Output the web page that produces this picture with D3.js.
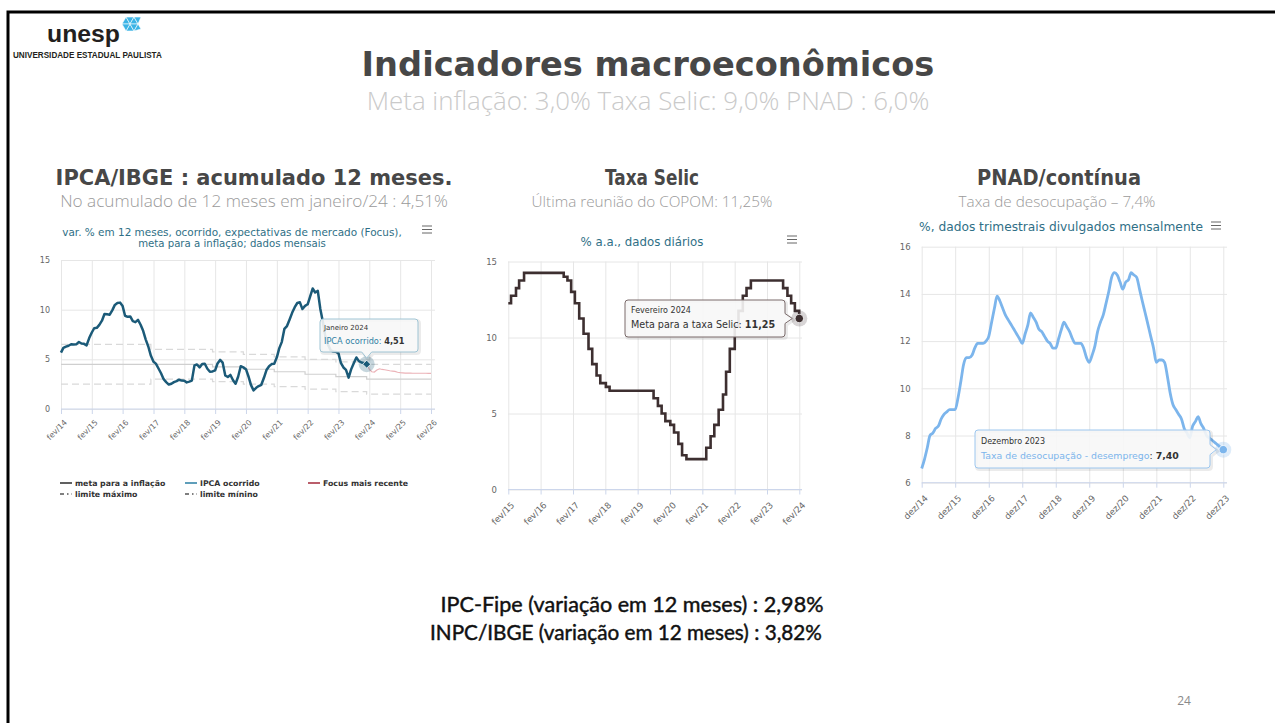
<!DOCTYPE html>
<html>
<head>
<meta charset="utf-8">
<script src="https://cdn.jsdelivr.net/npm/d3@7"></script>
<style>
  body { margin: 0; background: #fff; }
  svg { display: block; }
</style>
</head>
<body>
<svg id="slide" width="1275" height="723"></svg>
<script>
// ---------------- data ----------------
// IPCA 12-month, monthly from fev/2014 to jan/2024
const ipcaStart = "2014-02";
const ipcaValues = [
  5.68, 6.15, 6.28, 6.37, 6.52, 6.50, 6.51, 6.75, 6.59, 6.56, 6.41,
  7.14, 7.70, 8.13, 8.17, 8.47, 8.89, 9.56, 9.53, 9.49, 9.93, 10.48, 10.67,
  10.71, 10.36, 9.39, 9.28, 9.32, 8.84, 8.74, 8.97, 8.48, 7.87, 6.99, 6.29,
  5.35, 4.76, 4.57, 4.08, 3.60, 3.00, 2.71, 2.46, 2.54, 2.70, 2.80, 2.95,
  2.86, 2.84, 2.68, 2.76, 2.86, 4.39, 4.48, 4.19, 4.53, 4.56, 4.05, 3.75,
  3.78, 3.89, 4.58, 4.94, 4.66, 3.37, 3.22, 3.43, 2.89, 2.54, 3.27, 4.31,
  4.19, 4.01, 3.30, 2.40, 1.88, 2.13, 2.31, 2.44, 3.14, 3.92, 4.31, 4.52,
  4.56, 5.20, 6.10, 6.76, 8.06, 8.35, 8.99, 9.68, 10.25, 10.67, 10.74, 10.06,
  10.38, 10.54, 11.30, 12.13, 11.73, 11.89, 10.07, 8.73, 7.17, 6.47, 5.90, 5.79,
  5.77, 5.60, 4.65, 4.18, 3.94, 3.16, 3.99, 4.61, 5.19, 4.82, 4.68, 4.62,
  4.51
];
// Focus expectations, monthly from jan/2024
const focusStart = "2024-01";
const focusValues = [
  4.51, 4.00, 3.75, 3.72, 3.92, 4.05, 3.98, 3.95, 3.90, 3.85, 3.82, 3.78,
  3.70, 3.66, 3.64, 3.62, 3.62, 3.61, 3.60, 3.60, 3.60, 3.60, 3.60, 3.60,
  3.58, 3.58
];
// inflation target and band, by year
const metaYears = [2014, 2015, 2016, 2017, 2018, 2019, 2020, 2021, 2022, 2023, 2024, 2025, 2026];
const metaValues = [4.5, 4.5, 4.5, 4.5, 4.5, 4.25, 4.0, 3.75, 3.5, 3.25, 3.0, 3.0, 3.0];
const limMaxValues = [6.5, 6.5, 6.5, 6.0, 6.0, 5.75, 5.5, 5.25, 5.0, 4.75, 4.5, 4.5, 4.5];
const limMinValues = [2.5, 2.5, 2.5, 3.0, 3.0, 2.75, 2.5, 2.25, 2.0, 1.75, 1.5, 1.5, 1.5];
const ipcaTicks = ["fev/14", "fev/15", "fev/16", "fev/17", "fev/18", "fev/19", "fev/20",
  "fev/21", "fev/22", "fev/23", "fev/24", "fev/25", "fev/26"];

// Selic target, date of each COPOM change
const selicDates = [
  "2015-02-01", "2015-03-04", "2015-04-29", "2015-06-03", "2015-07-29",
  "2016-10-19", "2016-11-30", "2017-01-11", "2017-02-22", "2017-04-12",
  "2017-05-31", "2017-07-26", "2017-09-06", "2017-10-25", "2017-12-06",
  "2018-02-07", "2018-03-21", "2019-07-31", "2019-09-18", "2019-10-30",
  "2019-12-11", "2020-02-05", "2020-03-18", "2020-05-06", "2020-06-17",
  "2020-08-05", "2021-03-17", "2021-05-05", "2021-06-16", "2021-08-04",
  "2021-09-22", "2021-10-27", "2021-12-08", "2022-02-02", "2022-03-16",
  "2022-05-04", "2022-06-15", "2022-08-03", "2023-08-02", "2023-09-20",
  "2023-11-01", "2023-12-13", "2024-01-31", "2024-02-01"
];
const selicValues = [
  12.25, 12.75, 13.25, 13.75, 14.25,
  14.00, 13.75, 13.00, 12.25, 11.25,
  10.25, 9.25, 8.25, 7.50, 7.00,
  6.75, 6.50, 6.00, 5.50, 5.00,
  4.50, 4.25, 3.75, 3.00, 2.25,
  2.00, 2.75, 3.50, 4.25, 5.25,
  6.25, 7.75, 9.25, 10.75, 11.75,
  12.75, 13.25, 13.75, 13.25, 12.75,
  12.25, 11.75, 11.25, 11.25
];
const selicTicks = ["fev/15", "fev/16", "fev/17", "fev/18", "fev/19", "fev/20",
  "fev/21", "fev/22", "fev/23", "fev/24"];

// PNAD unemployment rate, monthly from dez/2014 to dez/2023
const pnadStart = "2014-12";
const pnadValues = [
  6.6,
  7.0, 7.5, 8.0, 8.1, 8.3, 8.4, 8.7, 8.9, 9.0, 9.1, 9.1, 9.1,
  9.6, 10.3, 11.0, 11.3, 11.3, 11.4, 11.7, 11.9, 11.9, 11.9, 12.0, 12.2,
  12.8, 13.4, 13.9, 13.7, 13.4, 13.1, 12.9, 12.7, 12.5, 12.3, 12.1, 11.9,
  12.3, 12.7, 13.2, 13.0, 12.8, 12.5, 12.4, 12.2, 12.0, 11.9, 11.7, 11.7,
  12.1, 12.5, 12.8, 12.6, 12.4, 12.1, 11.9, 11.9, 11.9, 11.7, 11.3, 11.1,
  11.4, 11.8, 12.4, 12.8, 13.1, 13.6, 14.1, 14.7, 14.9, 14.8, 14.5, 14.2,
  14.5, 14.6, 14.9, 14.8, 14.7, 14.2, 13.7, 13.2, 12.7, 12.2, 11.7, 11.1,
  11.2, 11.2, 11.1, 10.5, 9.8, 9.3, 9.1, 8.9, 8.7, 8.3, 8.1, 7.9,
  8.4, 8.6, 8.8, 8.5, 8.3, 8.0, 7.9, 7.8, 7.7, 7.6, 7.5, 7.4
];
const pnadTicks = ["dez/14", "dez/15", "dez/16", "dez/17", "dez/18", "dez/19",
  "dez/20", "dez/21", "dez/22", "dez/23"];

// ---------------- helpers ----------------
const parseMonth = d3.timeParse("%Y-%m");
const parseDay = d3.timeParse("%Y-%m-%d");
const monthNum = { jan: 0, fev: 1, mar: 2, abr: 3, mai: 4, jun: 5, jul: 6, ago: 7, set: 8, out: 9, nov: 10, dez: 11 };
const tickDate = (s) => new Date(2000 + +s.split("/")[1], monthNum[s.split("/")[0]], 1);
const monthly = (start, vals) => vals.map((v, i) => ({ d: d3.timeMonth.offset(parseMonth(start), i), v: v }));

const svg = d3.select("#slide");
svg.append("rect").attr("width", 1275).attr("height", 723).attr("fill", "#fff");

function fitText(sel, width) {
  const w = sel.node().getComputedTextLength();
  const fs = parseFloat(sel.attr("font-size"));
  sel.attr("font-size", fs * width / w);
  return sel;
}

function text(g, x, y, str, o) {
  const t = g.append("text").attr("x", x).attr("y", y).text(str)
    .attr("font-family", o.font || "DejaVu Sans")
    .attr("font-size", o.size || 10)
    .attr("font-weight", o.weight || "normal")
    .attr("fill", o.fill || "#333")
    .attr("text-anchor", o.anchor || "start");
  if (o.width) fitText(t, o.width);
  if (o.squeeze) t.attr("textLength", o.squeeze).attr("lengthAdjust", "spacingAndGlyphs");
  return t;
}

// grid, axes and labels in a Highcharts-like style
function chartFrame(g, x, y, xTicks, yTicks, box, labelOff) {
  const ticks = xTicks.map(tickDate);
  g.append("g")
    .attr("transform", `translate(${box.x0},0)`)
    .call(d3.axisLeft(y).tickValues(yTicks).tickSize(-(box.x1 - box.x0)).tickFormat(""))
    .call((a) => a.select(".domain").remove())
    .selectAll("line").attr("stroke", "#e6e6e6");
  g.append("g")
    .attr("transform", `translate(0,${box.y1})`)
    .call(d3.axisBottom(x).tickValues(ticks).tickSize(box.y0 - box.y1).tickFormat(""))
    .call((a) => a.select(".domain").remove())
    .selectAll("line").attr("stroke", "#e6e6e6");
  g.append("line")
    .attr("x1", box.x0).attr("x2", box.x1).attr("y1", box.y0).attr("y2", box.y0)
    .attr("stroke", "#ccd6eb");
  const xa = g.append("g")
    .attr("transform", `translate(0,${box.y0})`)
    .call(d3.axisBottom(x).tickValues(ticks).tickSize(5).tickFormat((d, i) => xTicks[i]));
  xa.select(".domain").remove();
  xa.selectAll("line").attr("stroke", "#ccd6eb");
  xa.selectAll("text")
    .attr("x", 0).attr("y", 0).attr("dy", "0.35em")
    .attr("transform", `translate(${labelOff[0]},${labelOff[1]}) rotate(-45)`)
    .attr("text-anchor", "end")
    .attr("font-family", "DejaVu Sans").attr("font-size", box.xfs).attr("fill", "#666");
  const ya = g.append("g")
    .attr("transform", `translate(${box.x0 - 8},0)`)
    .call(d3.axisLeft(y).tickValues(yTicks).tickSize(0));
  ya.select(".domain").remove();
  ya.selectAll("text").attr("font-family", "DejaVu Sans").attr("font-size", box.yfs).attr("fill", "#666");
}

function burger(g, x, y) {
  [0, 3.5, 7].forEach((dy) => g.append("line")
    .attr("x1", x - 5).attr("x2", x + 5).attr("y1", y + dy).attr("y2", y + dy)
    .attr("stroke", "#666").attr("stroke-width", 1));
}

// tooltip box with callout pointer; side = "bottom" or "right"
function tipBox(g, b, stroke, side, px, py) {
  let p;
  if (side === "bottom") {
    p = `M${b.x + 3},${b.y} H${b.x + b.w - 3} Q${b.x + b.w},${b.y} ${b.x + b.w},${b.y + 3} V${b.y + b.h - 3}
      Q${b.x + b.w},${b.y + b.h} ${b.x + b.w - 3},${b.y + b.h} H${px + 5} L${px},${py} L${px - 5},${b.y + b.h}
      H${b.x + 3} Q${b.x},${b.y + b.h} ${b.x},${b.y + b.h - 3} V${b.y + 3} Q${b.x},${b.y} ${b.x + 3},${b.y} Z`;
  } else {
    p = `M${b.x + 3},${b.y} H${b.x + b.w - 3} Q${b.x + b.w},${b.y} ${b.x + b.w},${b.y + 3} V${py - 5}
      L${px},${py} L${b.x + b.w},${py + 5} V${b.y + b.h - 3}
      Q${b.x + b.w},${b.y + b.h} ${b.x + b.w - 3},${b.y + b.h} H${b.x + 3} Q${b.x},${b.y + b.h} ${b.x},${b.y + b.h - 3}
      V${b.y + 3} Q${b.x},${b.y} ${b.x + 3},${b.y} Z`;
  }
  g.append("path").attr("d", p).attr("transform", "translate(1.5,1.5)")
    .attr("fill", "none").attr("stroke", "#000").attr("stroke-opacity", 0.08).attr("stroke-width", 3);
  g.append("path").attr("d", p).attr("fill", "#f7f7f7").attr("fill-opacity", 0.9)
    .attr("stroke", stroke).attr("stroke-width", 1);
}

// ---------------- slide frame & logo ----------------
svg.append("path").attr("d", "M8,723 V12 H1275").attr("fill", "none")
  .attr("stroke", "#000").attr("stroke-width", 3);
text(svg, 47, 42, "unesp", { font: "Liberation Sans", size: 24, weight: "bold", fill: "#231f20", width: 73 });
const logo = svg.append("g").attr("fill", "#3cb4e5").attr("stroke", "#fff").attr("stroke-width", 0.6);
[[122, 24, 126, 17, 130, 24], [126, 17, 134, 17, 130, 24], [130, 24, 134, 17, 138, 24],
 [134, 17, 141, 17, 138, 24], [126, 31, 130, 24, 134, 31], [130, 24, 138, 24, 134, 31],
 [134, 31, 138, 24, 141, 29], [122, 24, 130, 24, 126, 31]].forEach((t) =>
  logo.append("polygon").attr("points", `${t[0]},${t[1]} ${t[2]},${t[3]} ${t[4]},${t[5]}`));
text(svg, 13, 58, "UNIVERSIDADE ESTADUAL PAULISTA", { font: "Liberation Sans", size: 7, weight: "bold", fill: "#231f20", width: 149 });

// ---------------- headings ----------------
text(svg, 648, 76, "Indicadores macroeconômicos", { size: 32, weight: "bold", fill: "#474747", anchor: "middle", width: 573 });
text(svg, 648, 110, "Meta inflação: 3,0% Taxa Selic: 9,0% PNAD : 6,0%", { font: "Open Sans", size: 20, weight: 300, fill: "#cacaca", anchor: "middle", width: 563 });

const h1 = text(svg, 254, 185, "IPCA/IBGE : acumulado 12 meses.", { size: 20, weight: "bold", fill: "#474747", anchor: "middle", width: 397 });
const hSize = h1.attr("font-size");
text(svg, 254, 207, "No acumulado de 12 meses em janeiro/24 : 4,51%", { font: "Open Sans", size: 14, weight: 300, fill: "#9a9a9a", anchor: "middle", width: 388 });
text(svg, 652, 185, "Taxa Selic", { size: hSize, weight: "bold", fill: "#474747", anchor: "middle", squeeze: 94 });
text(svg, 652, 207, "Última reunião do COPOM: 11,25%", { font: "Open Sans", size: 14, weight: 300, fill: "#9a9a9a", anchor: "middle", width: 241 });
text(svg, 1059, 185, "PNAD/contínua", { size: hSize, weight: "bold", fill: "#474747", anchor: "middle", squeeze: 164 });
text(svg, 1057, 207, "Taxa de desocupação – 7,4%", { font: "Open Sans", size: 14, weight: 300, fill: "#9a9a9a", anchor: "middle", width: 197 });

// ---------------- IPCA chart ----------------
{
  const g = svg.append("g");
  const box = { x0: 61, x1: 435, y0: 409, y1: 260, xfs: 7.8, yfs: 8 };
  const x = d3.scaleTime().domain([tickDate("fev/14"), tickDate("fev/26")]).range([61, 431]);
  const y = d3.scaleLinear().domain([0, 15]).range([409, 260]);
  chartFrame(g, x, y, ipcaTicks, [0, 5, 10, 15], box, [4, 12]);

  text(g, 232, 236, "var. % em 12 meses, ocorrido, expectativas de mercado (Focus),", { size: 9, fill: "#2f6f86", anchor: "middle", width: 340 });
  text(g, 232, 247, "meta para a inflação; dados mensais", { size: 9, fill: "#2f6f86", anchor: "middle", width: 188 });
  burger(g, 427, 226);

  const stepPts = (vals) => {
    const pts = metaYears.map((yr, i) => ({ d: yr === 2014 ? tickDate("fev/14") : new Date(yr, 0, 1), v: vals[i] }));
    pts.push({ d: tickDate("fev/26"), v: vals[vals.length - 1] });
    return pts;
  };
  const stepLine = d3.line().x((d) => x(d.d)).y((d) => y(d.v)).curve(d3.curveStepAfter);
  const smooth = d3.line().x((d) => x(d.d)).y((d) => y(d.v));
  g.append("path").attr("d", stepLine(stepPts(limMaxValues))).attr("fill", "none")
    .attr("stroke", "#d9d9d9").attr("stroke-width", 1.2).attr("stroke-dasharray", "7,4");
  g.append("path").attr("d", stepLine(stepPts(limMinValues))).attr("fill", "none")
    .attr("stroke", "#d9d9d9").attr("stroke-width", 1.2).attr("stroke-dasharray", "7,4");
  g.append("path").attr("d", stepLine(stepPts(metaValues))).attr("fill", "none")
    .attr("stroke", "#cfcfcf").attr("stroke-width", 1.2);
  g.append("path").attr("d", smooth(monthly(focusStart, focusValues))).attr("fill", "none")
    .attr("stroke", "#ecb3b8").attr("stroke-width", 1.2);
  const ipca = monthly(ipcaStart, ipcaValues);
  g.append("path").attr("d", smooth(ipca)).attr("fill", "none")
    .attr("stroke", "#1b5a78").attr("stroke-width", 2.5).attr("stroke-linejoin", "round");

  const last = ipca[ipca.length - 1];
  const mx = x(last.d), my = y(last.v);
  g.append("circle").attr("cx", mx).attr("cy", my).attr("r", 8).attr("fill", "#1b5a78").attr("fill-opacity", 0.25);
  g.append("path").attr("d", `M${mx},${my - 4} L${mx + 4},${my} L${mx},${my + 4} L${mx - 4},${my} Z`)
    .attr("fill", "#1b5a78").attr("stroke", "#fff").attr("stroke-width", 0.8);

  tipBox(g, { x: 320, y: 319, w: 98, h: 33 }, "#9fc4d4", "bottom", mx, my - 6);
  text(g, 324, 330, "Janeiro 2024", { size: 7, fill: "#333" });
  const t2 = text(g, 324, 344, "", { size: 8.2, fill: "#2f7fa3" });
  t2.append("tspan").text("IPCA ocorrido: ");
  t2.append("tspan").attr("font-weight", "bold").attr("fill", "#333").text("4,51");

  // legend
  const leg = [
    { x: 60, y: 486, label: "meta para a inflação", color: "#2b2b2b", dash: null },
    { x: 185, y: 486, label: "IPCA ocorrido", color: "#2a7ea3", dash: null },
    { x: 308, y: 486, label: "Focus mais recente", color: "#a3283a", dash: null },
    { x: 60, y: 497, label: "limite máximo", color: "#555", dash: "4,3,1.5,3" },
    { x: 185, y: 497, label: "limite mínino", color: "#555", dash: "4,3,1.5,3" }
  ];
  leg.forEach((l) => {
    g.append("line").attr("x1", l.x).attr("x2", l.x + 12).attr("y1", l.y - 3).attr("y2", l.y - 3)
      .attr("stroke", l.color).attr("stroke-width", 1.5).attr("stroke-dasharray", l.dash);
    text(g, l.x + 15, l.y, l.label, { size: 7.8, weight: "bold", fill: "#333" });
  });
}

// ---------------- Selic chart ----------------
{
  const g = svg.append("g");
  const box = { x0: 508, x1: 802, y0: 489.5, y1: 261.5, xfs: 8.8, yfs: 8.5 };
  const x = d3.scaleTime().domain([tickDate("fev/15"), tickDate("fev/24")]).range([508.3, 799.3]);
  const y = d3.scaleLinear().domain([0, 15]).range([489.5, 261.5]);
  chartFrame(g, x, y, selicTicks, [0, 5, 10, 15], box, [4, 14]);
  text(g, 642, 246, "% a.a., dados diários", { size: 10, fill: "#2f6f86", anchor: "middle", width: 123 });
  burger(g, 792, 236);

  const pts = selicDates.map((d, i) => ({ d: parseDay(d), v: selicValues[i] }));
  const line = d3.line().x((d) => x(d.d)).y((d) => y(d.v)).curve(d3.curveStepAfter);
  g.append("path").attr("d", line(pts)).attr("fill", "none")
    .attr("stroke", "#3d2f30").attr("stroke-width", 2.6);
  const last = pts[pts.length - 1];
  const mx = x(last.d), my = y(last.v);
  g.append("circle").attr("cx", mx).attr("cy", my).attr("r", 8).attr("fill", "#3d2f30").attr("fill-opacity", 0.2);
  g.append("circle").attr("cx", mx).attr("cy", my).attr("r", 4.2).attr("fill", "#3d2f30").attr("stroke", "#fff").attr("stroke-width", 0.8);

  tipBox(g, { x: 625, y: 300, w: 160, h: 37 }, "#7a6a6a", "right", mx - 7, my);
  text(g, 631, 313, "Fevereiro 2024", { size: 8, fill: "#333" });
  const t2 = text(g, 631, 328, "", { size: 9.6, fill: "#333" });
  t2.append("tspan").text("Meta para a taxa Selic: ");
  t2.append("tspan").attr("font-weight", "bold").text("11,25");
}

// ---------------- PNAD chart ----------------
{
  const g = svg.append("g");
  const box = { x0: 921.7, x1: 1227, y0: 482.7, y1: 246.7, xfs: 8.8, yfs: 8.5 };
  const x = d3.scaleTime().domain([tickDate("dez/14"), tickDate("dez/23")]).range([921.7, 1223.3]);
  const y = d3.scaleLinear().domain([6, 16]).range([482.7, 246.7]);
  chartFrame(g, x, y, pnadTicks, [6, 8, 10, 12, 14, 16], box, [4, 14]);
  text(g, 1061, 231, "%, dados trimestrais divulgados mensalmente", { size: 10, fill: "#2f6f86", anchor: "middle", width: 284 });
  burger(g, 1216, 222);

  const pts = monthly(pnadStart, pnadValues);
  const line = d3.line().x((d) => x(d.d)).y((d) => y(d.v)).curve(d3.curveMonotoneX);
  g.append("path").attr("d", line(pts)).attr("fill", "none")
    .attr("stroke", "#7cb5ec").attr("stroke-width", 2.8).attr("stroke-linejoin", "round");
  const last = pts[pts.length - 1];
  const mx = x(last.d), my = y(last.v);
  g.append("circle").attr("cx", mx).attr("cy", my).attr("r", 8).attr("fill", "#7cb5ec").attr("fill-opacity", 0.25);
  g.append("circle").attr("cx", mx).attr("cy", my).attr("r", 4.2).attr("fill", "#7cb5ec").attr("stroke", "#fff").attr("stroke-width", 0.8);

  tipBox(g, { x: 975, y: 430, w: 235, h: 38 }, "#9cc6ee", "right", mx - 7, my);
  text(g, 981, 444, "Dezembro 2023", { size: 8, fill: "#333" });
  const t2 = text(g, 981, 459, "", { size: 9.4, fill: "#7cb5ec" });
  t2.append("tspan").text("Taxa de desocupação - desemprego");
  t2.append("tspan").attr("fill", "#333").text(": ");
  t2.append("tspan").attr("font-weight", "bold").attr("fill", "#333").text("7,40");
}

// ---------------- footer texts ----------------
text(svg, 632, 612, "IPC-Fipe (variação em 12 meses) : 2,98%", { font: "Lato", size: 16, fill: "#111", anchor: "middle", width: 383 })
  .attr("stroke", "#111").attr("stroke-width", 0.45);
text(svg, 626, 640, "INPC/IBGE (variação em 12 meses) : 3,82%", { font: "Lato", size: 16, fill: "#111", anchor: "middle", width: 392 })
  .attr("stroke", "#111").attr("stroke-width", 0.45);
text(svg, 1184, 705, "24", { font: "Open Sans", size: 12, fill: "#8a8a8a", anchor: "middle" });
</script>
</body>
</html>
